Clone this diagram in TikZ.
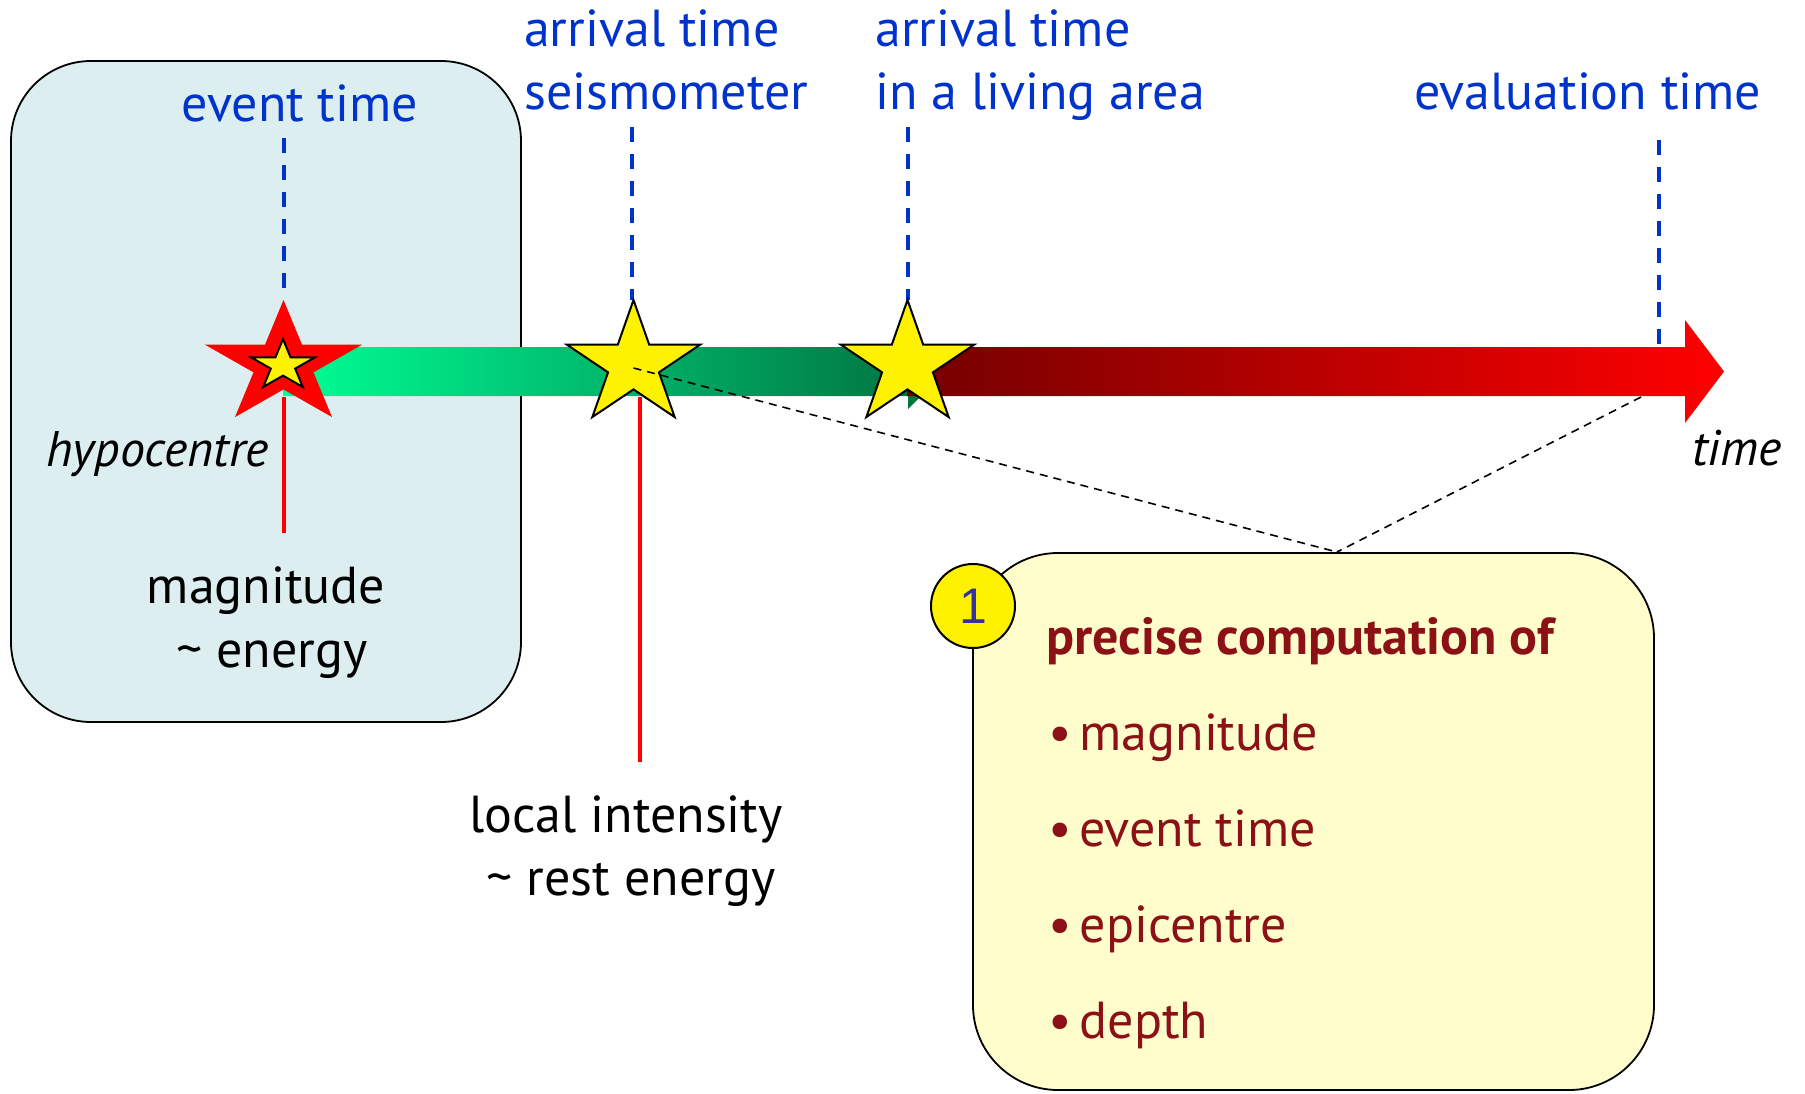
\documentclass[tikz,border=0pt]{standalone}
\usepackage{fontspec}
\setmainfont{PT Sans}
\newfontfamily\numfont{Liberation Sans}
\usetikzlibrary{calc}

\definecolor{labelblue}{RGB}{0,51,204}
\definecolor{boxcyan}{RGB}{220,238,240}
\definecolor{boxyellow}{RGB}{255,253,204}
\definecolor{textred}{RGB}{139,17,23}
\definecolor{numblue}{RGB}{51,51,153}
\definecolor{greenA}{RGB}{0,255,150}
\definecolor{greenB}{RGB}{0,115,65}
\definecolor{redA}{RGB}{115,0,0}

% five-pointed star: centre x, centre y, radius x, radius y, path options
\newcommand{\fivestar}[5]{%
  \path[#5] plot[samples at={0,...,9}]
    ({#1+#3*(1-0.618*mod(\x,2))*cos(90+36*\x)},
     {#2-#4*(1-0.618*mod(\x,2))*sin(90+36*\x)}) -- cycle;}

\begin{document}
\begin{tikzpicture}[x=1pt,y=-1pt,
  bigfont/.style={font=\fontsize{52}{63}\selectfont},
  lbl/.style={bigfont, text=labelblue, inner sep=0pt},
  txt/.style={bigfont, text=black, inner sep=0pt},
  itl/.style={font=\fontsize{50}{63}\selectfont\itshape, text=black, inner sep=0pt},
  item/.style={bigfont, text=textred, inner sep=0pt, anchor=base west},
  panel/.style={draw=black, line width=1.8pt, inner sep=0pt},
  timeline/.style={draw=labelblue, line width=3.5pt, dash pattern=on 15pt off 12pt},
  marker/.style={draw=red, line width=3.5pt},
  zoomline/.style={draw=black, line width=1.6pt, dash pattern=on 8pt off 6pt},
  starstyle/.style={fill=yellow, draw=black, line width=2pt, line join=miter}
]
\useasboundingbox (0,0) rectangle (1805,1093);

% panels
\node[panel, fill=boxcyan, rounded corners=80pt, minimum width=510, minimum height=661] (leftbox) at (266,391.5) {};
\node[panel, fill=boxyellow, rounded corners=85pt, minimum width=681, minimum height=537] (rightbox) at (1313.5,821.5) {};

% key points on the time axis
\coordinate (hypo) at (283.5,365);
\coordinate (seis) at (633.5,368);
\coordinate (living) at (907.5,365);
\coordinate (evalpt) at (1659,347);
\coordinate (apex) at (1337,552);
\coordinate (barend) at (1641,397);

% time labels
\node[lbl, anchor=base] (eventlbl) at (300,121) {event time};
\node[lbl, anchor=base west] (arr1a) at (524,46) {arrival time};
\node[lbl, anchor=base west] (arr1b) at (524,109) {seismometer};
\node[lbl, anchor=base west] (arr2a) at (875,46) {arrival time};
\node[lbl, anchor=base west] (arr2b) at (875,109) {in a living area};
\node[lbl, anchor=base west] (evallbl) at (1414,109) {evaluation time};

% dashed drop lines to the axis
\coordinate (d1) at (284,138);
\coordinate (d1e) at (284,296);
\coordinate (d2) at (632,127);
\coordinate (d2e) at (632,300);
\coordinate (d3) at (908,127);
\coordinate (d3e) at (908,300);
\coordinate (d4) at (1659,140);
\draw[timeline] (d1) -- (d1e);
\draw[timeline] (d2) -- (d2e);
\draw[timeline] (d3) -- (d3e);
\draw[timeline] (d4) -- (evalpt);

% red markers below the axis
\coordinate (m1) at (284,397);
\coordinate (m1e) at (284,533);
\coordinate (m2) at (640,397);
\coordinate (m2e) at (640,762);
\draw[marker] (m1) -- (m1e);
\draw[marker] (m2) -- (m2e);

% the time axis: green part, then red arrow
\shade[left color=greenA, right color=greenB]
  (283,347) -- (908,347) -- (908,396) -- (921,396) -- (908,409) -- (908,396) -- (283,396) -- cycle;
\shade[left color=redA, right color=red]
  (907,347) -- (1685,347) -- (1685,320) -- (1724,371.5) -- (1685,423) -- (1685,396) -- (907,396) -- cycle;

% stars
\fivestar{283.5}{364.7}{82.5}{64.7}{fill=red}
\fivestar{283}{365.5}{33.6}{26.5}{starstyle}
\fivestar{633.5}{364.7}{70}{64.7}{starstyle}
\fivestar{907.5}{364.7}{70}{64.7}{starstyle}

% zoom lines to the detail panel
\draw[zoomline] (seis) -- (apex);
\draw[zoomline] (barend) -- (apex);

% labels around the axis
\node[itl, anchor=base west] (hypolbl) at (46,466) {hypocentre};
\node[itl, anchor=base west] (timelbl) at (1692,465) {time};
\node[txt, anchor=base] (mag) at (266,603) {magnitude};
\node[txt, anchor=base] (energy) at (272,667) {\textasciitilde{} energy};
\node[txt, anchor=base] (local) at (626,832) {local intensity};
\node[txt, anchor=base] (rest) at (631,895) {\textasciitilde{} rest energy};

% detail panel content
\node[circle, draw=black, line width=2pt, fill=yellow, minimum size=84, inner sep=0pt,
      font=\numfont\fontsize{50}{50}\selectfont, text=numblue] (num) at (973,606) {1};
\node[item, font=\fontsize{52}{63}\selectfont\bfseries] (head) at (1046,654) {precise computation of};
\node[item] (i1) at (1048,750) {•\hspace{8pt}magnitude};
\node[item] (i2) at (1048,846) {•\hspace{8pt}event time};
\node[item] (i3) at (1048,942) {•\hspace{8pt}epicentre};
\node[item] (i4) at (1048,1038) {•\hspace{8pt}depth};
\end{tikzpicture}
\end{document}
